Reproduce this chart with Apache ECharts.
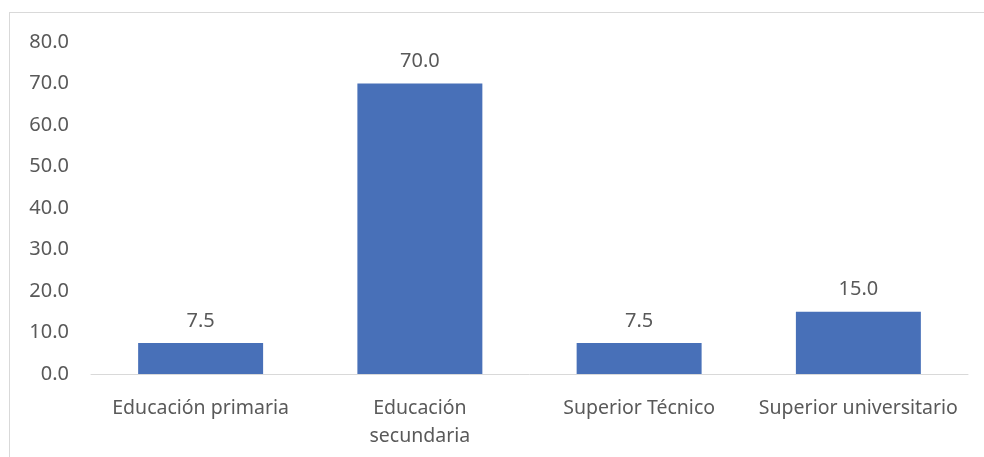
<!DOCTYPE html>
<html>
<head>
<meta charset="utf-8">
<script src="https://cdn.jsdelivr.net/npm/echarts@6/dist/echarts.min.js"></script>
<style>
  html, body { margin: 0; padding: 0; background: #fff; overflow: hidden; }
  #chart { position: absolute; left: 9px; top: 12px; width: 990px; height: 460px; border: 1px solid #d9d9d9; }
</style>
</head>
<body>
<div id="chart"></div>
<script>
// datos
var categorias = ['Educación primaria', 'Educación\nsecundaria', 'Superior Técnico', 'Superior universitario'];
var porcentajes = [7.5, 70.0, 7.5, 15.0];

var chart = echarts.init(document.getElementById('chart'));

var option = {
  animation: false,
  textStyle: { fontFamily: 'Noto Sans', color: '#595959' },
  grid: { left: 81, top: 29, width: 877, height: 332 },
  xAxis: {
    type: 'category',
    data: categorias,
    axisLine: { lineStyle: { color: '#d9d9d9', width: 1 } },
    axisTick: { show: false },
    axisLabel: { color: '#595959', fontSize: 19.5, margin: 20, lineHeight: 28, interval: 0 }
  },
  yAxis: {
    type: 'value',
    min: 0,
    max: 80,
    interval: 10,
    splitLine: { show: false },
    axisLine: { show: false },
    axisTick: { show: false },
    axisLabel: {
      color: '#595959',
      fontSize: 20,
      margin: 22,
      formatter: function (v) { return v.toFixed(1); }
    }
  },
  series: [
    {
      type: 'bar',
      data: porcentajes,
      barWidth: '57%',
      itemStyle: { color: '#4870b8' },
      label: {
        show: true,
        position: 'top',
        distance: 12,
        color: '#595959',
        fontSize: 20,
        formatter: function (p) { return p.value.toFixed(1); }
      }
    }
  ]
};

chart.setOption(option);
</script>
</body>
</html>
